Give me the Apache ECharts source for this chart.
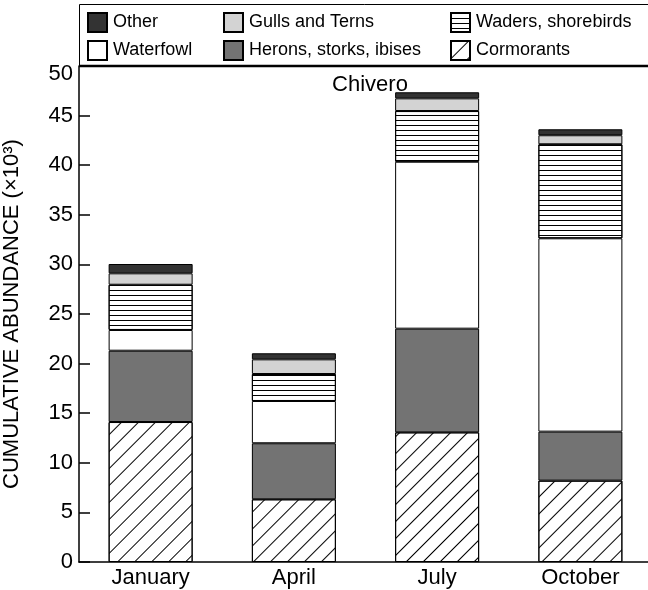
<!DOCTYPE html>
<html>
<head>
<meta charset="utf-8">
<script src="https://cdn.jsdelivr.net/npm/echarts@6/dist/echarts.min.js"></script>
<style>html,body{margin:0;padding:0;background:#fff}#c{width:648px;height:590px}</style>
</head>
<body>
<div id="c"></div>
<script>
const months = ['January', 'April', 'July', 'October'];
const cormorants = [14.11, 6.32, 13.07, 8.2];
const herons = [7.19, 5.65, 10.45, 4.94];
const waterfowl = [2.09, 4.26, 16.83, 19.49];
const waders = [4.56, 2.72, 5.11, 9.48];
const gulls = [1.15, 1.48, 1.28, 0.91];
const other = [0.94, 0.61, 0.61, 0.6];
const yTicks = { min: 0, max: 50, interval: 5 };

const FONT = 'Liberation Sans';
const chart = echarts.init(document.getElementById('c'), null, { renderer: 'canvas' });

function seg(name, data, color, decal) {
  const s = {
    name, type: 'bar', stack: 'total', data, barWidth: 84,
    itemStyle: { color, borderColor: '#000', borderWidth: 1 },
    emphasis: { disabled: true }
  };
  if (decal) s.itemStyle.decal = decal;
  return s;
}

const hatch = { symbol: 'rect', symbolSize: 1, dashArrayX: [1, 0], dashArrayY: [1, 11], rotation: -Math.PI / 4, color: '#000' };
const hlines = { symbol: 'rect', symbolSize: 1, dashArrayX: [1, 0], dashArrayY: [1, 3.5], rotation: 0, color: '#000' };

function leg(name, left, top) {
  return {
    data: [name], left, top, padding: 0, itemWidth: 19, itemHeight: 19, icon: 'rect',
    textStyle: { fontFamily: FONT, fontSize: 18, color: '#000', padding: [0, 0, 0, 1] },
    selectedMode: false
  };
}

const option = {
  animation: false,
  backgroundColor: '#fff',
  title: {
    text: 'Chivero', left: 365, textAlign: 'center', top: 69,
    textStyle: { fontFamily: FONT, fontSize: 22, fontWeight: 'normal', color: '#000' }
  },
  legend: [
    leg('Other', 87, 12), leg('Gulls and Terns', 223, 12), leg('Waders, shorebirds', 450, 12),
    leg('Waterfowl', 87, 40), leg('Herons, storks, ibises', 223, 40), leg('Cormorants', 450, 40)
  ],
  grid: { left: 79, right: -4, top: 66, bottom: 28, containLabel: false, outerBoundsMode: 'none' },
  xAxis: {
    type: 'category', data: months,
    axisLine: { lineStyle: { color: '#000', width: 1.5 } },
    axisTick: { inside: true, length: 10, lineStyle: { color: '#000', width: 1.5 } },
    axisLabel: { fontFamily: FONT, fontSize: 22, color: '#000', margin: 5 }
  },
  yAxis: {
    type: 'value', min: yTicks.min, max: yTicks.max, interval: yTicks.interval,
    name: 'CUMULATIVE ABUNDANCE (×10³)', nameLocation: 'middle', nameGap: 56,
    nameTextStyle: { fontFamily: FONT, fontSize: 22, color: '#000' },
    axisLine: { show: true, lineStyle: { color: '#000', width: 1.5 } },
    axisTick: { show: true, inside: true, length: 11, lineStyle: { color: '#000', width: 1.5 } },
    splitLine: { show: false },
    axisLabel: {
      fontFamily: FONT, fontSize: 22, color: '#000', margin: 6,
      formatter: v => v === 50 ? '{t|50}' : String(v),
      rich: { t: { fontFamily: FONT, fontSize: 22, color: '#000', padding: [16, 0, 0, 0] } }
    }
  },
  graphic: [
    { type: 'rect', shape: { x: 79.5, y: 4.5, width: 600, height: 61 }, style: { fill: null, stroke: '#000', lineWidth: 1 }, z: 10 },
    { type: 'line', shape: { x1: 79, y1: 66, x2: 648, y2: 66 }, style: { stroke: '#000', lineWidth: 2.5 }, z: 10 }
  ],
  series: [
    seg('Cormorants', cormorants, '#fff', hatch),
    seg('Herons, storks, ibises', herons, '#737373'),
    seg('Waterfowl', waterfowl, '#fff'),
    seg('Waders, shorebirds', waders, '#fff', hlines),
    seg('Gulls and Terns', gulls, '#d3d3d3'),
    seg('Other', other, '#333333')
  ]
};
chart.setOption(option);
</script>
</body>
</html>
